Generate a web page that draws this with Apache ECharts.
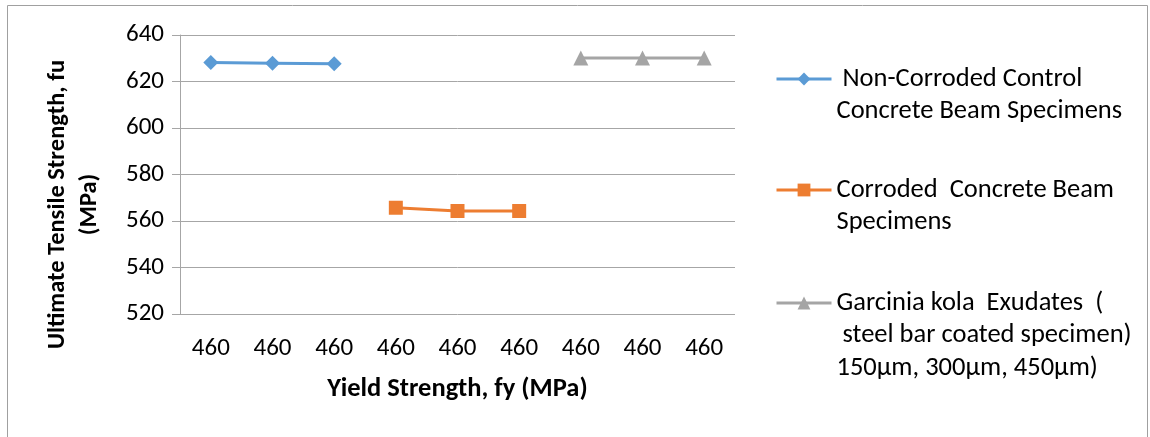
<!DOCTYPE html>
<html><head><meta charset="utf-8">
<script src="https://cdn.jsdelivr.net/npm/echarts@6/dist/echarts.min.js"></script>
<style>html,body{margin:0;padding:0;background:#fff}#c{width:1150px;height:437px}</style>
</head><body><div id="c"></div>
<script>
const categories = ['460','460','460','460','460','460','460','460','460'];
const nonCorroded = [628.2, 627.9, 627.6, null, null, null, null, null, null];
const corroded = [null, null, null, 565.7, 564.3, 564.3, null, null, null];
const garcinia = [null, null, null, null, null, null, 630.1, 630.1, 630.1];
const seriesNames = [
  ' Non-Corroded Control\nConcrete Beam Specimens',
  'Corroded  Concrete Beam\nSpecimens',
  'Garcinia kola  Exudates  (\n steel bar coated specimen)\n150µm, 300µm, 450µm)'
];
const yTicks = { min: 520, max: 640, interval: 20 };

const FONT = "Carlito, 'Open Sans', sans-serif";
const chart = echarts.init(document.getElementById('c'), null, {renderer: 'canvas'});
const LH = 32.5;
function legendFor(i, y, lines) {
  const pre = '\n'.repeat(lines - 1);
  const blockLines = 2 * lines - 1;
  return {
    data: [seriesNames[i]], left: 775, top: y - blockLines * LH / 2, orient: 'vertical',
    padding: 0, itemWidth: 55, itemHeight: 16, itemGap: 0,
    formatter: function (n) { return pre + n; },
    lineStyle: { width: 3 },
    textStyle: { fontFamily: FONT, fontSize: 26.5, color: '#000', lineHeight: LH }
  };
}
chart.setOption({
  animation: false,
  graphic: [{ type: 'rect', shape: { x: 7.5, y: 5.5, width: 1140, height: 440 },
    style: { fill: 'none', stroke: '#a0a0a0', lineWidth: 1 }, silent: true }],
  grid: { left: 180, right: 415, top: 35, bottom: 123, containLabel: false, outerBoundsMode: 'none' },
  legend: [legendFor(0, 79, 2), legendFor(1, 190, 2), legendFor(2, 303, 3)],
  xAxis: {
    type: 'category', data: categories, boundaryGap: true,
    axisLine: { show: false }, axisTick: { show: false },
    axisLabel: { fontFamily: FONT, fontSize: 25, color: '#000', margin: 22 },
    name: 'Yield Strength, fy (MPa)', nameLocation: 'middle', nameGap: 62,
    nameTextStyle: { fontFamily: FONT, fontSize: 26.5, fontWeight: 'bold', color: '#000' }
  },
  yAxis: {
    type: 'value', min: yTicks.min, max: yTicks.max, interval: yTicks.interval,
    axisLine: { show: true, lineStyle: { color: '#a6a6a6', width: 1 } },
    axisTick: { show: true, inside: false, length: 8, lineStyle: { color: '#a6a6a6' } },
    splitLine: { lineStyle: { color: '#a6a6a6', width: 1 } },
    axisLabel: { fontFamily: FONT, fontSize: 25, color: '#000', margin: 16 },
    name: 'Ultimate Tensile Strength, fu\n(MPa)', nameLocation: 'middle', nameGap: 74,
    nameTextStyle: { fontFamily: FONT, fontSize: 24.5, fontWeight: 'bold', color: '#000',
      lineHeight: 32, padding: [0, 60, 0, 0] }
  },
  series: [
    { name: seriesNames[0], type: 'line', data: nonCorroded, symbol: 'diamond', symbolSize: 15,
      itemStyle: { color: '#5B9BD5' }, lineStyle: { color: '#5B9BD5', width: 3 } },
    { name: seriesNames[1], type: 'line', data: corroded, symbol: 'rect', symbolSize: 14,
      itemStyle: { color: '#ED7D31' }, lineStyle: { color: '#ED7D31', width: 3 } },
    { name: seriesNames[2], type: 'line', data: garcinia, symbol: 'triangle', symbolSize: 15,
      itemStyle: { color: '#A5A5A5' }, lineStyle: { color: '#A5A5A5', width: 3 } }
  ]
});
</script></body></html>
